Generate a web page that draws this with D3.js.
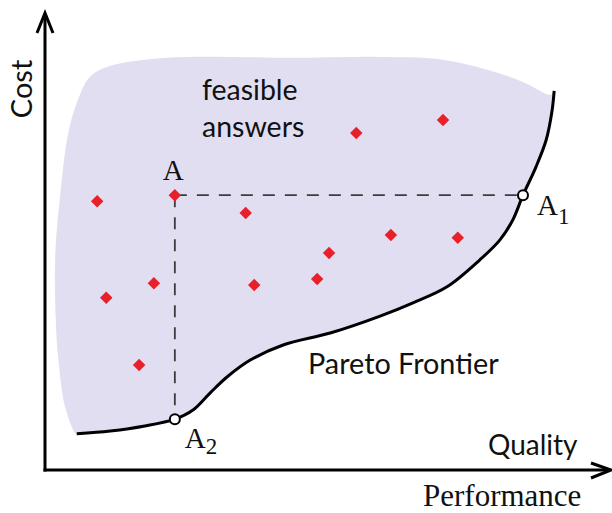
<!DOCTYPE html>
<html>
<head>
<meta charset="utf-8">
<script src="https://cdn.jsdelivr.net/npm/d3@7"></script>
<style>
  html, body { margin: 0; padding: 0; background: #fff; }
  svg { display: block; }
</style>
</head>
<body>
<svg id="chart" width="612" height="513"></svg>
<script>
// ---- data (abstract units: performance 0-100, cost 0-100) ----
const answerX = [9.2, 22.9, 35.4, 54.9, 70.2, 61.0, 72.8, 50.1, 10.8, 19.2, 16.6, 36.9, 48.0];
const answerY = [58.7, 60.0, 56.1, 73.6, 76.4, 51.3, 50.7, 47.4, 37.6, 40.8, 22.9, 40.4, 41.7];

const frontierX = [5.6, 11.5, 17.6, 22.9, 26.1, 29.1, 32.1, 36.2, 42.0, 50.3, 59.1, 64.9, 70.9, 76.7, 80.2, 82.5, 84.3, 86.6, 88.4, 89.4, 89.8];
const frontierY = [7.9, 8.5, 9.6, 11.1, 13.1, 16.8, 20.3, 24.0, 27.3, 29.9, 33.6, 36.5, 40.0, 45.9, 50.2, 54.6, 60.0, 66.2, 72.1, 78.2, 82.8];

// upper / left edge of the feasible region (from the frontier's top end, counter-clockwise)
const regionEdgeX = [89.2, 84.3, 78.3, 69.5, 59.1, 45.0, 21.5, 10.9, 7.9, 5.8, 4.1, 2.6, 1.8, 1.9, 2.3, 3.5, 5.3];
const regionEdgeY = [81.9, 84.7, 87.3, 89.7, 90.2, 90.0, 90.0, 88.0, 85.8, 80.8, 73.6, 59.0, 46.7, 32.8, 24.9, 14.0, 8.1];

const pointA  = [22.9, 60.0];
const pointA1 = [84.3, 60.0];
const pointA2 = [22.9, 11.1];

const labels = {
  yAxis: "Cost",
  xAxis: "Performance",
  xInner: "Quality",
  region: ["feasible", "answers"],
  frontier: "Pareto Frontier"
};

// ---- chart ----
const svg = d3.select("#chart");
const x = d3.scaleLinear().domain([0, 100]).range([45, 612]);
const y = d3.scaleLinear().domain([0, 100]).range([470, 12]);

const sans = "Lato, 'Open Sans', sans-serif";
const serif = "'Liberation Serif', 'DejaVu Serif', serif";

// feasible region
const frontierPts = frontierX.map((d, i) => [d, frontierY[i]]);
const edgePts = regionEdgeX.map((d, i) => [d, regionEdgeY[i]]);
const regionPts = frontierPts.concat(edgePts);

svg.append("path")
  .attr("d", d3.line().x(d => x(d[0])).y(d => y(d[1])).curve(d3.curveCatmullRomClosed.alpha(0.5))(regionPts))
  .attr("fill", "#e1def2")
  .attr("stroke", "none");

// dashed projection lines
svg.append("line")
  .attr("x1", x(pointA[0])).attr("y1", y(pointA[1]))
  .attr("x2", x(pointA1[0])).attr("y2", y(pointA1[1]))
  .attr("stroke", "#3c3c3c").attr("stroke-width", 1.8).attr("stroke-dasharray", "12,10");
svg.append("line")
  .attr("x1", x(pointA[0])).attr("y1", y(pointA[1]))
  .attr("x2", x(pointA2[0])).attr("y2", y(pointA2[1]))
  .attr("stroke", "#3c3c3c").attr("stroke-width", 1.8).attr("stroke-dasharray", "12,10");

// Pareto frontier
svg.append("path")
  .attr("d", d3.line().x(d => x(d[0])).y(d => y(d[1])).curve(d3.curveCatmullRom.alpha(0.5))(frontierPts))
  .attr("fill", "none")
  .attr("stroke", "#000")
  .attr("stroke-width", 3);

// answers (red diamonds)
const diamond = d3.symbol().type(d3.symbolSquare).size(78);
svg.append("g").selectAll("path")
  .data(answerX.map((d, i) => [d, answerY[i]]))
  .join("path")
  .attr("d", diamond)
  .attr("transform", d => `translate(${x(d[0])},${y(d[1])}) rotate(45)`)
  .attr("fill", "#e8202a");

// A1, A2 hollow markers
svg.append("g").selectAll("circle")
  .data([pointA1, pointA2])
  .join("circle")
  .attr("cx", d => x(d[0])).attr("cy", d => y(d[1]))
  .attr("r", 5)
  .attr("fill", "#fff").attr("stroke", "#000").attr("stroke-width", 2);

// axes (arrows)
const axisG = svg.append("g").attr("stroke", "#000").attr("stroke-width", 3).attr("fill", "none");
axisG.append("line").attr("x1", x(0)).attr("y1", y(0) + 1.5).attr("x2", x(0)).attr("y2", y(100) + 2);
axisG.append("line").attr("x1", x(0) - 1.5).attr("y1", y(0)).attr("x2", x(100) - 2).attr("y2", y(0));
axisG.append("path")
  .attr("d", `M${x(0) - 8},${y(100) + 21} L${x(0)},${y(100) + 1} L${x(0) + 8},${y(100) + 21}`);
axisG.append("path")
  .attr("d", `M${x(100) - 21},${y(0) - 7} L${x(100) - 1},${y(0)} L${x(100) - 21},${y(0) + 8}`);

// text
svg.append("text")
  .attr("transform", `translate(32,${y(83.2)}) rotate(-90)`)
  .attr("text-anchor", "middle")
  .attr("font-family", sans).attr("font-size", 29).attr("fill", "#111")
  .text(labels.yAxis);

svg.append("text")
  .attr("x", 488).attr("y", 455)
  .attr("font-family", sans).attr("font-size", 28).attr("fill", "#111")
  .text(labels.xInner);

svg.append("text")
  .attr("x", 423).attr("y", 506)
  .attr("font-family", serif).attr("font-size", 31).attr("fill", "#111")
  .text(labels.xAxis);

svg.append("text")
  .attr("font-family", sans).attr("font-size", 28.5).attr("fill", "#111")
  .selectAll("tspan").data(labels.region).join("tspan")
  .attr("x", 202).attr("y", (d, i) => 100 + i * 37)
  .text(d => d);

svg.append("text")
  .attr("x", 308).attr("y", 374)
  .attr("font-family", sans).attr("font-size", 28.8).attr("fill", "#111")
  .text(labels.frontier);

// point labels
svg.append("text")
  .attr("x", x(pointA[0]) - 12).attr("y", y(pointA[1]) - 15)
  .attr("font-family", serif).attr("font-size", 29).attr("fill", "#111")
  .text("A");

function subLabel(px, py, sub, dy) {
  const t = svg.append("text").attr("x", px).attr("y", py)
    .attr("font-family", serif).attr("font-size", 29).attr("fill", "#111");
  t.append("tspan").text("A");
  t.append("tspan").attr("font-size", 23).attr("dy", dy).text(sub);
}
subLabel(x(pointA1[0]) + 14, y(pointA1[1]) + 20, "1", 9);
subLabel(x(pointA2[0]) + 10, y(pointA2[1]) + 29, "2", 6);
</script>
</body>
</html>
